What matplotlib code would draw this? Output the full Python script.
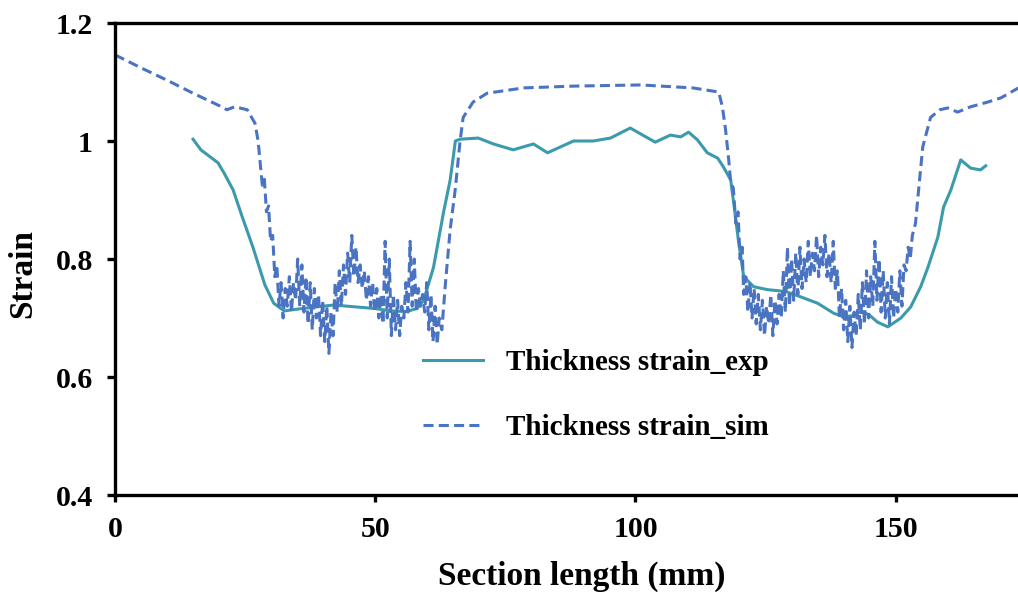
import matplotlib
matplotlib.use("Agg")
import matplotlib.pyplot as plt
from matplotlib.ticker import FixedLocator, FuncFormatter

# ---- data -------------------------------------------------------------
# Measured thickness strain along the section
exp_x = [15, 16.5, 18, 19.8, 21, 22.7, 24.5, 26.5, 28.8, 30.5, 32.5, 35, 38, 42,
         46, 50, 53, 56, 58, 59.3, 61.2, 63.1, 64.4, 65.4, 66.3, 69.8, 72.7,
         76.5, 80.4, 83.1, 85.6, 88.1, 91.9, 95.2, 99, 101, 103.8, 106.7, 108.7,
         110.2, 111.9, 113.8, 115.8, 116.9, 118.3, 118.8, 119.8, 120.8, 122.7,
         125.4, 128.8, 131.7, 135, 138.1, 140, 141.8, 143.5, 145.2, 146.5,
         148.5, 151, 152.9, 154.8, 156.2, 158.1, 159.2, 160.6, 162.5, 164.4,
         166.3, 167.3]
exp_y = [1.003, 0.985, 0.975, 0.963, 0.945, 0.917, 0.870, 0.820, 0.756, 0.725,
         0.712, 0.715, 0.718, 0.722, 0.719, 0.716, 0.712, 0.711, 0.716, 0.730,
         0.786, 0.878, 0.934, 1.000, 1.003, 1.005, 0.995, 0.985, 0.995, 0.980,
         0.990, 1.000, 1.000, 1.005, 1.022, 1.012, 0.998, 1.010, 1.007, 1.015,
         1.002, 0.980, 0.971, 0.956, 0.934, 0.900, 0.830, 0.770, 0.753, 0.748,
         0.745, 0.736, 0.725, 0.708, 0.702, 0.704, 0.712, 0.703, 0.693, 0.685,
         0.700, 0.719, 0.753, 0.786, 0.837, 0.888, 0.917, 0.968, 0.954, 0.951,
         0.958]

# Simulated thickness strain along the section
sim_x = [0, 5, 10, 15, 20, 21.5, 23, 25.4, 26.9, 27.5, 28.3, 28.7, 29.1, 29.5,
         29.9, 30.3, 30.7, 31.1,
         31.5, 31.9, 32.3, 32.7, 33.1, 33.5, 33.9, 34.3, 34.7, 35.1, 35.5, 35.9,
         36.3, 36.7, 37.1, 37.5, 37.9, 38.3, 38.7, 39.1, 39.5, 39.9, 40.3, 40.7,
         41.1, 41.5, 41.9, 42.3, 42.7, 43.1, 43.5, 43.9, 44.3, 44.7, 45.1, 45.5,
         45.9, 46.3, 46.7, 47.1, 47.5, 47.9, 48.3, 48.7, 49.1, 49.5, 49.9, 50.3,
         50.7, 51.1, 51.5, 51.9, 52.3, 52.7, 53.1, 53.5, 53.9, 54.3, 54.7, 55.1,
         55.5, 55.9, 56.3, 56.7, 57.1, 57.5, 57.9, 58.3, 58.7, 59.1, 59.5, 59.9,
         60.3, 60.7, 61.1, 61.5, 61.9, 62.3,
         62.8, 63.5, 64.4, 65.4, 66.3, 66.9, 68.8, 71.5, 78.5, 88, 101, 111,
         116, 116.7, 117.3, 117.9, 118.3, 118.8, 119.3, 119.7, 120.1, 120.5,
         120.8, 121.2, 121.6, 122.0, 122.4, 122.8, 123.2, 123.6, 124.0, 124.4,
         124.8, 125.2, 125.6, 126.0, 126.4, 126.8, 127.2, 127.6, 128.0, 128.4,
         128.8, 129.2, 129.6, 130.0, 130.4, 130.8, 131.2, 131.6, 132.0, 132.4,
         132.8, 133.2, 133.6, 134.0, 134.4, 134.8, 135.2, 135.6, 136.0, 136.4,
         136.8, 137.2, 137.6, 138.0, 138.4, 138.8, 139.2, 139.6, 140.0, 140.4,
         140.8, 141.2, 141.6, 142.0, 142.4, 142.8, 143.2, 143.6, 144.0, 144.4,
         144.8, 145.2, 145.6, 146.0, 146.4, 146.8, 147.2, 147.6, 148.0, 148.4,
         148.8, 149.2, 149.6, 150.0, 150.4, 150.8, 151.2, 151.6, 152.0, 152.4,
         152.8, 153.2,
         153.8, 154.4, 155.2, 156.7, 158.5, 160, 161.9, 164.4, 167.7, 170.2,
         173.6]
sim_y = [1.146, 1.124, 1.103, 1.081, 1.060, 1.053, 1.058, 1.053, 1.030, 1.000,
         0.925, 0.935, 0.880, 0.890, 0.830, 0.840, 0.770, 0.790,
         0.72, 0.76, 0.70, 0.75, 0.72, 0.77, 0.71, 0.76, 0.73, 0.80, 0.72, 0.79,
         0.71, 0.77, 0.69, 0.76, 0.68, 0.75, 0.70, 0.74, 0.67, 0.73, 0.66, 0.72,
         0.64, 0.71, 0.67, 0.76, 0.71, 0.78, 0.72, 0.79, 0.74, 0.81, 0.76, 0.84,
         0.77, 0.82, 0.76, 0.79, 0.75, 0.78, 0.73, 0.77, 0.72, 0.76, 0.71, 0.75,
         0.70, 0.74, 0.69, 0.83, 0.70, 0.80, 0.67, 0.74, 0.68, 0.73, 0.67, 0.72,
         0.70, 0.76, 0.71, 0.83, 0.72, 0.80, 0.71, 0.75, 0.72, 0.74, 0.71, 0.76,
         0.68, 0.74, 0.66, 0.72, 0.655, 0.70,
         0.68, 0.76, 0.85, 0.92, 1.000, 1.040, 1.066, 1.081, 1.090, 1.093, 1.095,
         1.090, 1.083, 1.058, 1.020, 0.970, 0.930, 0.920, 0.860, 0.880, 0.800,
         0.820,
         0.74, 0.77, 0.71, 0.76, 0.70, 0.75, 0.69, 0.74, 0.68, 0.73,
         0.67, 0.72, 0.69, 0.74, 0.67, 0.73, 0.69, 0.74, 0.70, 0.78,
         0.71, 0.82, 0.72, 0.80, 0.73, 0.81, 0.74, 0.82, 0.75, 0.80,
         0.76, 0.83, 0.77, 0.81, 0.78, 0.84, 0.77, 0.82, 0.79, 0.84,
         0.77, 0.81, 0.76, 0.83, 0.75, 0.78, 0.70, 0.75, 0.68, 0.73,
         0.66, 0.72, 0.65, 0.71, 0.67, 0.74, 0.68, 0.76, 0.69, 0.78,
         0.70, 0.77, 0.72, 0.83, 0.73, 0.80, 0.71, 0.78, 0.70, 0.76,
         0.69, 0.77, 0.70, 0.75, 0.71, 0.78, 0.72, 0.79, 0.78, 0.82,
         0.80, 0.84,
         0.86, 0.917, 0.990, 1.040, 1.053, 1.056, 1.049, 1.058, 1.066, 1.073,
         1.090]

x_ticks = [0, 50, 100, 150]
y_ticks = [0.4, 0.6, 0.8, 1.0, 1.2]
exp_label = "Thickness strain_exp"
sim_label = "Thickness strain_sim"
x_title = "Section length (mm)"
y_title = "Strain"

# ---- styling ----------------------------------------------------------
plt.rcParams["font.family"] = ["Liberation Serif", "DejaVu Serif"]
plt.rcParams["font.weight"] = "bold"
TICK_FS = 21.5
LEG_FS = 21
TITLE_FS = 24

exp_color = "#3b9aab"
sim_color = "#4a74c2"

fig = plt.figure(figsize=(10.18, 6.01), dpi=100)
ax = fig.add_axes([115 / 1018, 106 / 601, 903 / 1018, 472 / 601])

ax.plot(exp_x, exp_y, color=exp_color, lw=2.2, label=exp_label,
        solid_joinstyle="round")
ax.plot(sim_x, sim_y, color=sim_color, lw=2.2, linestyle=(0, (3.3, 1.7)),
        label=sim_label)

ax.set_xlim(0, 173.5)
ax.set_ylim(0.4, 1.2)

ax.xaxis.set_major_locator(FixedLocator(x_ticks))
ax.yaxis.set_major_locator(FixedLocator(y_ticks))
ax.yaxis.set_major_formatter(FuncFormatter(lambda v, p: f"{v:g}"))

for side in ("left", "top", "bottom"):
    ax.spines[side].set_linewidth(2.4)
    ax.spines[side].set_color("black")
ax.spines["right"].set_visible(False)

ax.tick_params(axis="y", direction="out", length=6, width=2.4, pad=10,
               labelsize=TICK_FS)
ax.tick_params(axis="x", direction="out", length=5, width=2.4, pad=10,
               labelsize=TICK_FS)
for lbl in ax.get_xticklabels() + ax.get_yticklabels():
    lbl.set_fontweight("bold")

ax.set_xlabel(x_title, fontsize=TITLE_FS, fontweight="bold")
ax.set_ylabel(y_title, fontsize=TITLE_FS, fontweight="bold")
ax.xaxis.set_label_coords(0.517, -0.14)
ax.yaxis.set_label_coords(-0.085, 0.47)

leg = ax.legend(loc="center left", bbox_to_anchor=(0.341, 0.212),
                frameon=False, fontsize=LEG_FS, handlelength=2.05,
                handletextpad=0.8, labelspacing=1.3, borderpad=0,
                borderaxespad=0)
for t in leg.get_texts():
    t.set_fontweight("bold")

fig.savefig("out.png", dpi=100)
